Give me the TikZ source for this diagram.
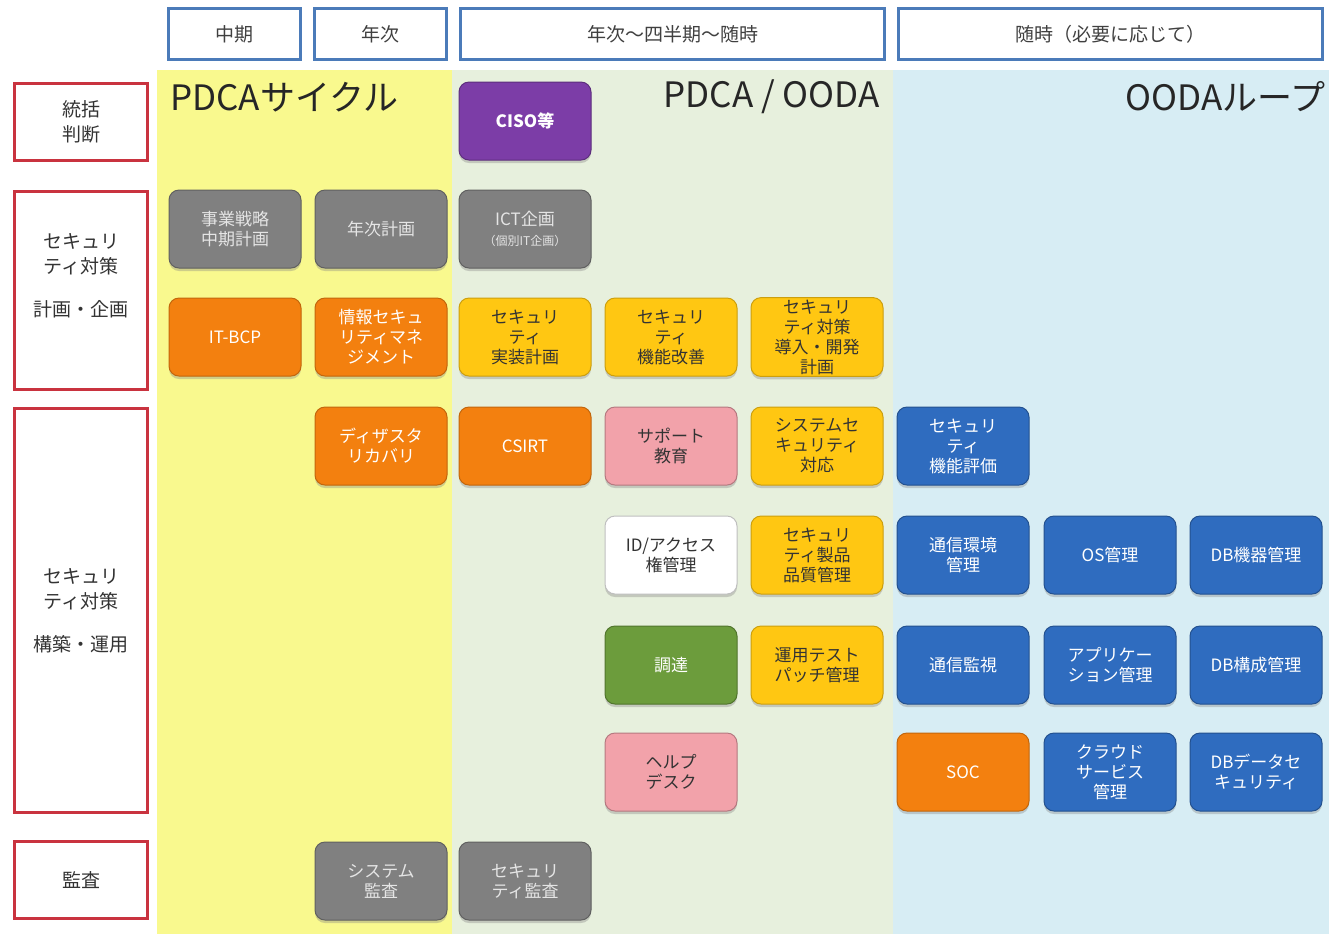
\documentclass[tikz,border=0pt]{standalone}
\usepackage{fontspec}
\setmainfont{Noto Sans CJK JP}
\usepackage{tikz}
\usetikzlibrary{positioning, shadows}

\definecolor{bandyellow}{HTML}{F9F98E}
\definecolor{bandgreen}{HTML}{E7F0DD}
\definecolor{bandblue}{HTML}{D7EDF4}
\definecolor{periodblue}{HTML}{4B7BB9}
\definecolor{rolered}{HTML}{C9333F}
\definecolor{cellgray}{HTML}{808080}
\definecolor{cellpurple}{HTML}{7C3DA7}
\definecolor{cellorange}{HTML}{F3800F}
\definecolor{cellyellow}{HTML}{FFC712}
\definecolor{cellpink}{HTML}{F2A2AA}
\definecolor{cellgreen}{HTML}{6C9C3C}
\definecolor{cellblue}{HTML}{2F6CBF}

\tikzset{
  cell/.style={rounded corners=5pt, minimum width=66pt, minimum height=39pt,
    inner sep=1pt, align=center, line width=0.5pt,
    font=\fontsize{8.5}{10}\selectfont,
    drop shadow={shadow xshift=0pt, shadow yshift=-1.5pt, opacity=0.35}},
  graycell/.style={cell, fill=cellgray, draw=cellgray!75!black, text=white!90!black},
  purplecell/.style={cell, fill=cellpurple, draw=cellpurple!75!black, text=white, font=\fontsize{8.5}{10}\selectfont\bfseries},
  orangecell/.style={cell, fill=cellorange, draw=cellorange!80!black, text=white},
  yellowcell/.style={cell, fill=cellyellow, draw=cellyellow!80!black, text=black!80},
  pinkcell/.style={cell, fill=cellpink, draw=cellpink!75!black, text=black!80},
  whitecell/.style={cell, fill=white, draw=black!25, text=black!80},
  greencell/.style={cell, fill=cellgreen, draw=cellgreen!75!black, text=white},
  bluecell/.style={cell, fill=cellblue, draw=cellblue!75!black, text=white},
  period/.style={draw=periodblue, line width=1.5pt, fill=white, minimum height=25.5pt,
    inner sep=0pt, font=\fontsize{9.5}{11}\selectfont, text=black!75},
  roletext/.style={inner sep=0pt, align=center, font=\fontsize{9.5}{12.5}\selectfont, text=black!80},
  role/.style={roletext, draw=rolered, line width=1.5pt, fill=white, minimum width=66.5pt},
  bandtitle/.style={inner sep=0pt, font=\fontsize{17.5}{20}\selectfont, text=black!85}
}

\begin{document}
\begin{tikzpicture}[x=0.5pt, y=-0.5pt]
  \useasboundingbox (0,0) rectangle (1329,934);
  \fill[bandyellow] (157,70) rectangle (452,934);
  \fill[bandgreen] (452,70) rectangle (893,934);
  \fill[bandblue] (893,70) rectangle (1329,934);

  \node[period, minimum width=66pt] (mid) at (234.5,34) {中期};
  \node[period, minimum width=66pt] (year) at (380.5,34) {年次};
  \node[period, minimum width=212pt] (quarter) at (672.5,34) {年次〜四半期〜随時};
  \node[period, minimum width=212pt] (anytime) at (1110.5,34) {随時（必要に応じて）};

  \node[role, minimum height=38.5pt] (govern) at (81,122) {統括\\判断};
  \node[role, minimum height=99pt] (plan) at (81,290.5) {};
  \node[roletext] (plantext) at (81,276) {セキュリ\\ティ対策\\[9pt]計画・企画};
  \node[role, minimum height=202pt] (build) at (81,610.5) {セキュリ\\ティ対策\\[9pt]構築・運用};
  \node[role, minimum height=38.5pt] (audit) at (81,880) {監査};

  \node[bandtitle, anchor=west] (pdca) at (170,97) {PDCAサイクル};
  \node[bandtitle, anchor=east] (mixed) at (880,97) {PDCA / OODA};
  \node[bandtitle, anchor=east] (ooda) at (1326,97) {OODAループ};

  \node[purplecell] (ciso) at (525,121) {CISO等};

  \node[graycell] (strategy) at (235,229) {事業戦略\\中期計画};
  \node[graycell] (annual) at (381,229) {年次計画};
  \node[graycell] (ict) at (525,229) {ICT企画\\{\fontsize{6}{7}\selectfont （個別IT企画）}};

  \node[orangecell] (bcp) at (235,337) {IT-BCP};
  \node[orangecell] (isms) at (381,337) {情報セキュ\\リティマネ\\ジメント};
  \node[yellowcell] (impl) at (525,337) {セキュリ\\ティ\\実装計画};
  \node[yellowcell] (improve) at (671,337) {セキュリ\\ティ\\機能改善};
  \node[yellowcell] (deploy) at (817,337) {セキュリ\\ティ対策\\導入・開発\\計画};

  \node[orangecell] (dr) at (381,446) {ディザスタ\\リカバリ};
  \node[orangecell] (csirt) at (525,446) {CSIRT};
  \node[pinkcell] (support) at (671,446) {サポート\\教育};
  \node[yellowcell] (syssec) at (817,446) {システムセ\\キュリティ\\対応};
  \node[bluecell] (evaluate) at (963,446) {セキュリ\\ティ\\機能評価};

  \node[whitecell] (idm) at (671,555) {ID/アクセス\\権管理};
  \node[yellowcell] (quality) at (817,555) {セキュリ\\ティ製品\\品質管理};
  \node[bluecell] (netenv) at (963,555) {通信環境\\管理};
  \node[bluecell] (os) at (1110,555) {OS管理};
  \node[bluecell] (dbhw) at (1256,555) {DB機器管理};

  \node[greencell] (procure) at (671,665) {調達};
  \node[yellowcell] (patch) at (817,665) {運用テスト\\パッチ管理};
  \node[bluecell] (netmon) at (963,665) {通信監視};
  \node[bluecell] (app) at (1110,665) {アプリケー\\ション管理};
  \node[bluecell] (dbconf) at (1256,665) {DB構成管理};

  \node[pinkcell] (help) at (671,772) {ヘルプ\\デスク};
  \node[orangecell] (soc) at (963,772) {SOC};
  \node[bluecell] (cloud) at (1110,772) {クラウド\\サービス\\管理};
  \node[bluecell] (dbdata) at (1256,772) {DBデータセ\\キュリティ};

  \node[graycell] (sysaudit) at (381,881) {システム\\監査};
  \node[graycell] (secaudit) at (525,881) {セキュリ\\ティ監査};
\end{tikzpicture}
\end{document}
